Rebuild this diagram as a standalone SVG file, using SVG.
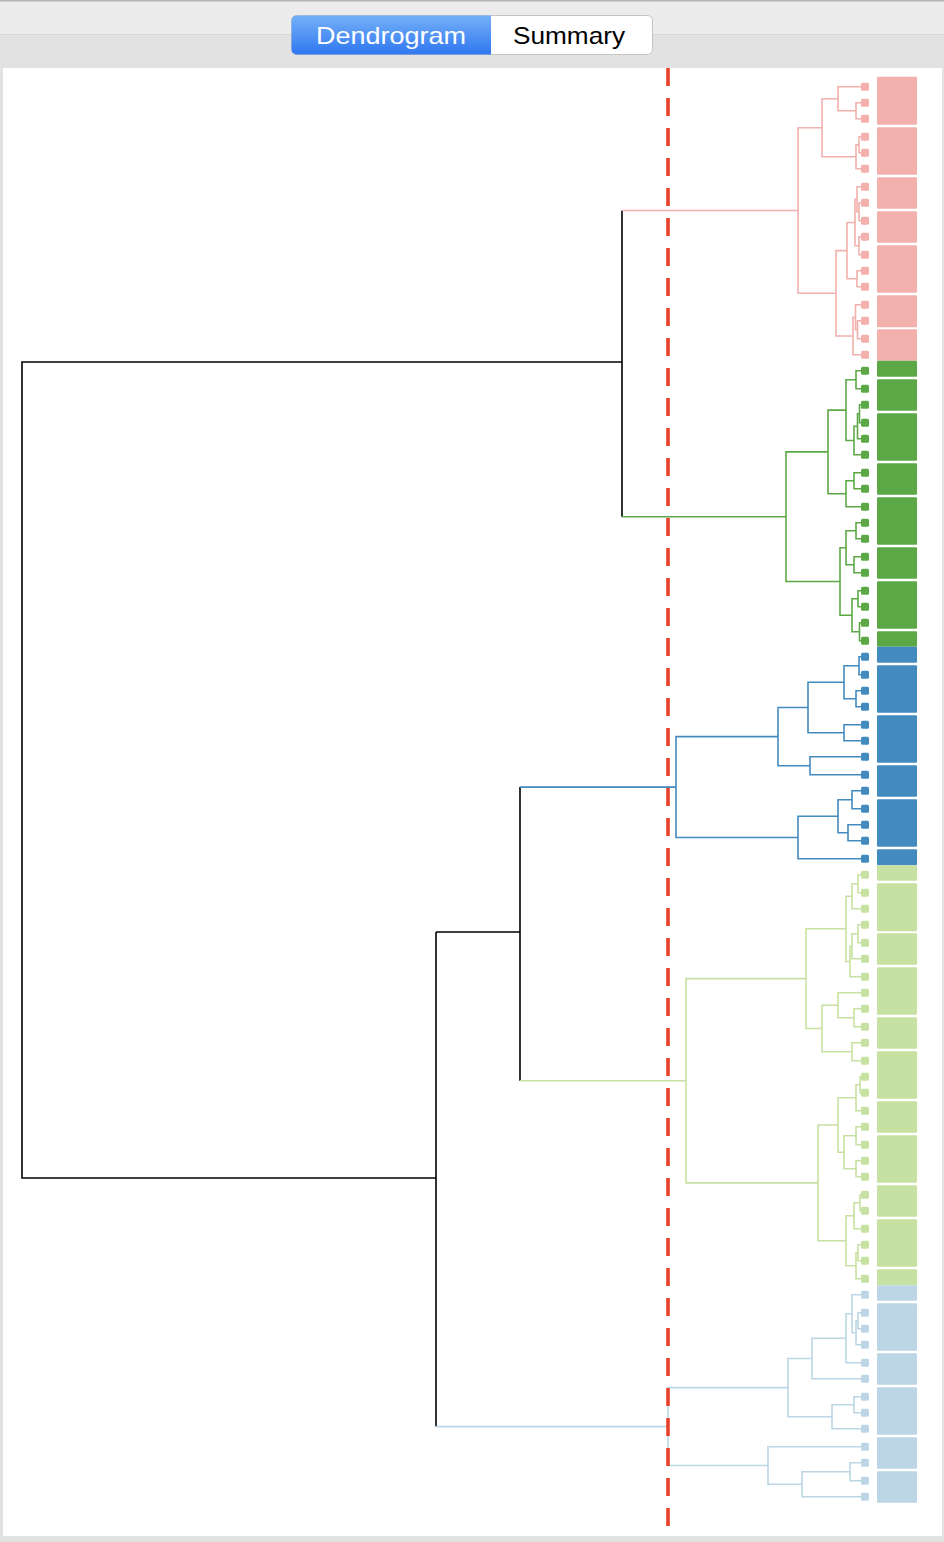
<svg xmlns="http://www.w3.org/2000/svg" width="944" height="1542" viewBox="0 0 944 1542">
<defs>
<linearGradient id="sel" x1="0" y1="0" x2="0" y2="1">
<stop offset="0" stop-color="#74b0f8"/>
<stop offset="1" stop-color="#3077f0"/>
</linearGradient>
<style>
.ln{fill:none;stroke-width:1.6;stroke-linejoin:miter;stroke-linecap:butt}
.k{stroke:#000}
.p{stroke:#f2b1ac}.pf{fill:#f2b1ac}
.g{stroke:#5ca847}.gf{fill:#5ca847}
.b{stroke:#438bbf}.bf{fill:#438bbf}
.l{stroke:#c7e1a2}.lf{fill:#c7e1a2}
.m{stroke:#bcd6e6}.mf{fill:#bcd6e6}
.tab{font-family:"Liberation Sans",Arial,sans-serif;font-size:24px}
</style>
</defs>
<rect x="0" y="0" width="944" height="1542" fill="#e2e2e2"/>
<rect x="0" y="0" width="944" height="34" fill="#ececec"/>
<rect x="0" y="0" width="944" height="1.5" fill="#b4b4b4"/>
<rect x="0" y="34" width="944" height="1" fill="#d6d6d6"/>
<rect x="3" y="68" width="939" height="1468" fill="#ffffff"/>

<g id="tabs">
<rect x="291.5" y="15.5" width="361" height="39" rx="5" fill="#ffffff" stroke="#c4c4c4"/>
<path d="M296.5 15.5 H491 V54.5 H296.5 A5 5 0 0 1 291.5 49.5 V20.5 A5 5 0 0 1 296.5 15.5 Z" fill="url(#sel)"/>
<text class="tab" x="391" y="44" text-anchor="middle" fill="#ffffff" textLength="150" lengthAdjust="spacingAndGlyphs">Dendrogram</text>
<text class="tab" x="569" y="44" text-anchor="middle" fill="#000000" textLength="112" lengthAdjust="spacingAndGlyphs">Summary</text>
</g>

<g id="connectors">
<path id="c-top" class="ln k" d="M622 210.5 V516.7 M622 362 H22 V1178 H436 M436 932 V1426.6 M436 932 H520 M520 787.1 V1080.7"/>
<path id="c-pink" class="ln p" d="M861 102.7 H856 V118.7 H861 M861 86.7 H838 V110.7 H856 M861 136.7 H859 V152.7 H861 M859 144.7 H856 V168.7 H861 M838 98.7 H822 V156.7 H856 M861 202.7 H859 V220.7 H861 M861 186.7 H857 V211.7 H859 M861 236.7 H859 V254.7 H861 M857 199.2 H855 V245.7 H859 M861 270.7 H857 V286.7 H861 M855 222.5 H847 V278.7 H857 M861 320.7 H857.5 V338.7 H861 M861 304.7 H855.5 V329.7 H857.5 M855.5 317.2 H853 V354.7 H861 M847 250.6 H836 V336 H853 M822 127.7 H798 V293.3 H836 M798 210.5 H622"/>
<path id="c-green" class="ln g" d="M861 370.7 H856 V388.7 H861 M861 404.7 H859.5 V422.7 H861 M859.5 413.7 H857.5 V438.7 H861 M857.5 426.2 H854 V454.7 H861 M856 379.7 H846 V440.5 H854 M861 472.7 H854 V488.7 H861 M854 480.7 H846 V506.7 H861 M846 410.1 H828 V493.7 H846 M861 522.7 H856 V538.7 H861 M861 556.7 H854 V572.7 H861 M856 530.7 H846 V564.7 H854 M861 590.7 H858 V606.7 H861 M861 622.7 H859.5 V640.7 H861 M858 598.7 H852 V631.7 H859.5 M846 547.7 H840 V615.2 H852 M828 451.9 H786 V581.5 H840 M786 516.7 H622"/>
<path id="c-blue" class="ln b" d="M861 656.7 H859 V674.7 H861 M861 690.7 H856 V706.7 H861 M859 665.7 H844 V698.7 H856 M861 724.7 H844 V740.7 H861 M844 682.2 H808 V732.7 H844 M861 756.7 H810 V774.7 H861 M808 707.5 H778 V765.7 H810 M861 790.7 H852 V808.7 H861 M861 824.7 H848 V840.7 H861 M852 799.7 H838 V832.7 H848 M838 816.2 H798 V858.7 H861 M778 736.6 H676 V837.5 H798 M676 787.1 H520"/>
<path id="c-lgreen" class="ln l" d="M861 874.7 H858 V892.7 H861 M858 883.7 H852 V908.7 H861 M861 924.7 H858 V942.7 H861 M858 933.7 H852 V958.7 H861 M852 946.2 H850 V976.7 H861 M852 896.2 H846 V961.5 H850 M861 1008.7 H854 V1026.7 H861 M861 992.7 H838 V1017.7 H854 M861 1042.7 H852 V1060.7 H861 M838 1005.2 H822 V1051.7 H852 M846 928.8 H806 V1028.5 H822 M861 1076.7 H860 V1092.7 H861 M860 1084.7 H856 V1110.7 H861 M861 1126.7 H856 V1144.7 H861 M861 1160.7 H856 V1176.7 H861 M856 1135.7 H844 V1168.7 H856 M856 1097.7 H838 V1152.2 H844 M861 1194.7 H860 V1210.7 H861 M860 1202.7 H854 V1228.7 H861 M861 1244.7 H858 V1260.7 H861 M858 1252.7 H856 V1278.7 H861 M854 1215.7 H846 V1265.7 H856 M838 1125 H818 V1240.7 H846 M806 978.6 H686 V1182.9 H818 M686 1080.7 H520"/>
<path id="c-lblue" class="ln m" d="M861 1312.7 H858 V1328.7 H861 M858 1320.7 H856 V1344.7 H861 M861 1294.7 H852 V1332.7 H856 M852 1313.7 H846 V1362.7 H861 M846 1338.2 H812 V1378.7 H861 M861 1396.7 H854 V1412.7 H861 M854 1404.7 H832 V1428.7 H861 M812 1358.5 H788 V1416.7 H832 M861 1462.7 H850 V1480.7 H861 M850 1471.7 H802 V1496.7 H861 M861 1446.7 H768 V1484.2 H802 M788 1387.6 H668 V1465.5 H768 M668 1426.6 H436"/>
</g>

<g id="leaves-pink" class="pf">
<rect x="861" y="82.7" width="8" height="8" rx="1.5"/><rect x="861" y="98.7" width="8" height="8" rx="1.5"/><rect x="861" y="114.7" width="8" height="8" rx="1.5"/><rect x="861" y="132.7" width="8" height="8" rx="1.5"/><rect x="861" y="148.7" width="8" height="8" rx="1.5"/><rect x="861" y="164.7" width="8" height="8" rx="1.5"/><rect x="861" y="182.7" width="8" height="8" rx="1.5"/><rect x="861" y="198.7" width="8" height="8" rx="1.5"/><rect x="861" y="216.7" width="8" height="8" rx="1.5"/><rect x="861" y="232.7" width="8" height="8" rx="1.5"/><rect x="861" y="250.7" width="8" height="8" rx="1.5"/><rect x="861" y="266.7" width="8" height="8" rx="1.5"/><rect x="861" y="282.7" width="8" height="8" rx="1.5"/><rect x="861" y="300.7" width="8" height="8" rx="1.5"/><rect x="861" y="316.7" width="8" height="8" rx="1.5"/><rect x="861" y="334.7" width="8" height="8" rx="1.5"/><rect x="861" y="350.7" width="8" height="8" rx="1.5"/>
</g>
<g id="leaves-green" class="gf">
<rect x="861" y="366.7" width="8" height="8" rx="1.5"/><rect x="861" y="384.7" width="8" height="8" rx="1.5"/><rect x="861" y="400.7" width="8" height="8" rx="1.5"/><rect x="861" y="418.7" width="8" height="8" rx="1.5"/><rect x="861" y="434.7" width="8" height="8" rx="1.5"/><rect x="861" y="450.7" width="8" height="8" rx="1.5"/><rect x="861" y="468.7" width="8" height="8" rx="1.5"/><rect x="861" y="484.7" width="8" height="8" rx="1.5"/><rect x="861" y="502.7" width="8" height="8" rx="1.5"/><rect x="861" y="518.7" width="8" height="8" rx="1.5"/><rect x="861" y="534.7" width="8" height="8" rx="1.5"/><rect x="861" y="552.7" width="8" height="8" rx="1.5"/><rect x="861" y="568.7" width="8" height="8" rx="1.5"/><rect x="861" y="586.7" width="8" height="8" rx="1.5"/><rect x="861" y="602.7" width="8" height="8" rx="1.5"/><rect x="861" y="618.7" width="8" height="8" rx="1.5"/><rect x="861" y="636.7" width="8" height="8" rx="1.5"/>
</g>
<g id="leaves-blue" class="bf">
<rect x="861" y="652.7" width="8" height="8" rx="1.5"/><rect x="861" y="670.7" width="8" height="8" rx="1.5"/><rect x="861" y="686.7" width="8" height="8" rx="1.5"/><rect x="861" y="702.7" width="8" height="8" rx="1.5"/><rect x="861" y="720.7" width="8" height="8" rx="1.5"/><rect x="861" y="736.7" width="8" height="8" rx="1.5"/><rect x="861" y="752.7" width="8" height="8" rx="1.5"/><rect x="861" y="770.7" width="8" height="8" rx="1.5"/><rect x="861" y="786.7" width="8" height="8" rx="1.5"/><rect x="861" y="804.7" width="8" height="8" rx="1.5"/><rect x="861" y="820.7" width="8" height="8" rx="1.5"/><rect x="861" y="836.7" width="8" height="8" rx="1.5"/><rect x="861" y="854.7" width="8" height="8" rx="1.5"/>
</g>
<g id="leaves-lgreen" class="lf">
<rect x="861" y="870.7" width="8" height="8" rx="1.5"/><rect x="861" y="888.7" width="8" height="8" rx="1.5"/><rect x="861" y="904.7" width="8" height="8" rx="1.5"/><rect x="861" y="920.7" width="8" height="8" rx="1.5"/><rect x="861" y="938.7" width="8" height="8" rx="1.5"/><rect x="861" y="954.7" width="8" height="8" rx="1.5"/><rect x="861" y="972.7" width="8" height="8" rx="1.5"/><rect x="861" y="988.7" width="8" height="8" rx="1.5"/><rect x="861" y="1004.7" width="8" height="8" rx="1.5"/><rect x="861" y="1022.7" width="8" height="8" rx="1.5"/><rect x="861" y="1038.7" width="8" height="8" rx="1.5"/><rect x="861" y="1056.7" width="8" height="8" rx="1.5"/><rect x="861" y="1072.7" width="8" height="8" rx="1.5"/><rect x="861" y="1088.7" width="8" height="8" rx="1.5"/><rect x="861" y="1106.7" width="8" height="8" rx="1.5"/><rect x="861" y="1122.7" width="8" height="8" rx="1.5"/><rect x="861" y="1140.7" width="8" height="8" rx="1.5"/><rect x="861" y="1156.7" width="8" height="8" rx="1.5"/><rect x="861" y="1172.7" width="8" height="8" rx="1.5"/><rect x="861" y="1190.7" width="8" height="8" rx="1.5"/><rect x="861" y="1206.7" width="8" height="8" rx="1.5"/><rect x="861" y="1224.7" width="8" height="8" rx="1.5"/><rect x="861" y="1240.7" width="8" height="8" rx="1.5"/><rect x="861" y="1256.7" width="8" height="8" rx="1.5"/><rect x="861" y="1274.7" width="8" height="8" rx="1.5"/>
</g>
<g id="leaves-lblue" class="mf">
<rect x="861" y="1290.7" width="8" height="8" rx="1.5"/><rect x="861" y="1308.7" width="8" height="8" rx="1.5"/><rect x="861" y="1324.7" width="8" height="8" rx="1.5"/><rect x="861" y="1340.7" width="8" height="8" rx="1.5"/><rect x="861" y="1358.7" width="8" height="8" rx="1.5"/><rect x="861" y="1374.7" width="8" height="8" rx="1.5"/><rect x="861" y="1392.7" width="8" height="8" rx="1.5"/><rect x="861" y="1408.7" width="8" height="8" rx="1.5"/><rect x="861" y="1424.7" width="8" height="8" rx="1.5"/><rect x="861" y="1442.7" width="8" height="8" rx="1.5"/><rect x="861" y="1458.7" width="8" height="8" rx="1.5"/><rect x="861" y="1476.7" width="8" height="8" rx="1.5"/><rect x="861" y="1492.7" width="8" height="8" rx="1.5"/>
</g>

<g id="bars-pink" class="pf">
<rect x="877" y="76.7" width="40" height="48" rx="1"/><rect x="877" y="127.3" width="40" height="47.4" rx="1"/><rect x="877" y="177.3" width="40" height="31.4" rx="1"/><rect x="877" y="211.3" width="40" height="31.4" rx="1"/><rect x="877" y="245.3" width="40" height="47.4" rx="1"/><rect x="877" y="295.3" width="40" height="32" rx="1"/><rect x="877" y="329.3" width="40" height="31.4" rx="1"/>
</g>
<g id="bars-green" class="gf">
<rect x="877" y="360.7" width="40" height="16" rx="1"/><rect x="877" y="379.3" width="40" height="31.4" rx="1"/><rect x="877" y="413.3" width="40" height="47.4" rx="1"/><rect x="877" y="463.3" width="40" height="31.4" rx="1"/><rect x="877" y="497.3" width="40" height="47.4" rx="1"/><rect x="877" y="547.3" width="40" height="31.4" rx="1"/><rect x="877" y="581.3" width="40" height="47.4" rx="1"/><rect x="877" y="631.3" width="40" height="15.4" rx="1"/>
</g>
<g id="bars-blue" class="bf">
<rect x="877" y="646.7" width="40" height="16" rx="1"/><rect x="877" y="665.3" width="40" height="47.4" rx="1"/><rect x="877" y="715.3" width="40" height="47.4" rx="1"/><rect x="877" y="765.3" width="40" height="31.4" rx="1"/><rect x="877" y="799.3" width="40" height="47.4" rx="1"/><rect x="877" y="849.3" width="40" height="16" rx="1"/>
</g>
<g id="bars-lgreen" class="lf">
<rect x="877" y="865.3" width="40" height="15.4" rx="1"/><rect x="877" y="883.3" width="40" height="48" rx="1"/><rect x="877" y="933.3" width="40" height="31.4" rx="1"/><rect x="877" y="967.3" width="40" height="47.4" rx="1"/><rect x="877" y="1017.3" width="40" height="31.4" rx="1"/><rect x="877" y="1051.3" width="40" height="47.4" rx="1"/><rect x="877" y="1101.3" width="40" height="31.4" rx="1"/><rect x="877" y="1135.3" width="40" height="47.4" rx="1"/><rect x="877" y="1185.3" width="40" height="31.4" rx="1"/><rect x="877" y="1219.3" width="40" height="47.4" rx="1"/><rect x="877" y="1269.3" width="40" height="16" rx="1"/>
</g>
<g id="bars-lblue" class="mf">
<rect x="877" y="1285.3" width="40" height="15.4" rx="1"/><rect x="877" y="1303.3" width="40" height="47.4" rx="1"/><rect x="877" y="1353.3" width="40" height="31.4" rx="1"/><rect x="877" y="1387.3" width="40" height="47.4" rx="1"/><rect x="877" y="1437.3" width="40" height="31.4" rx="1"/><rect x="877" y="1471.3" width="40" height="31.4" rx="1"/>
</g>

<g id="cut-line">
<line x1="668" y1="68" x2="668" y2="1527" stroke="#e8412b" stroke-width="3.6" stroke-dasharray="18 12"/>
</g>
</svg>
